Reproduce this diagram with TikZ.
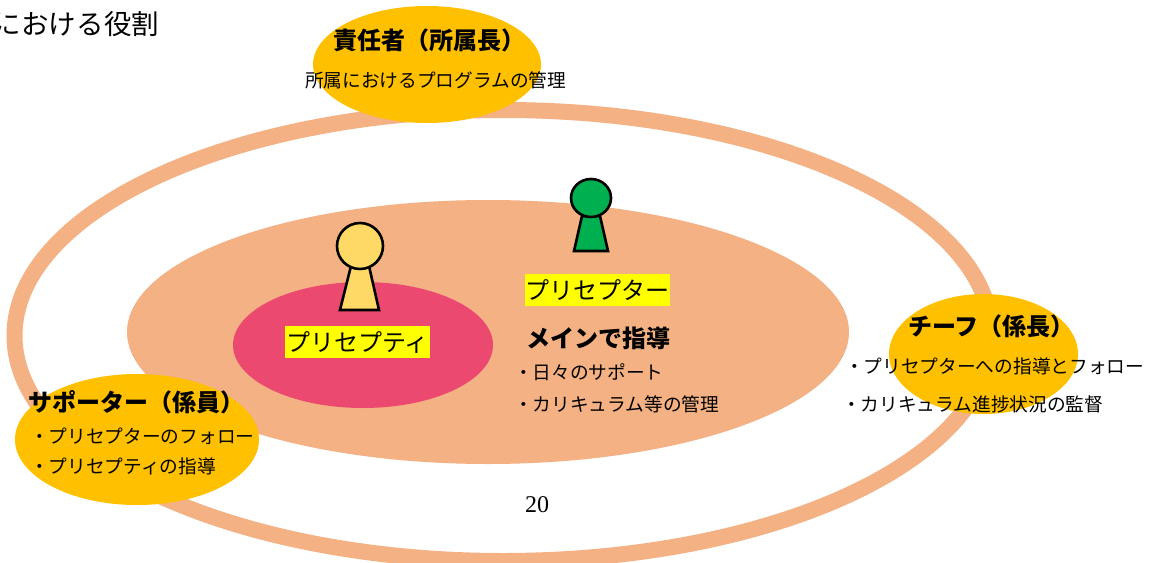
\documentclass[tikz,border=0pt]{standalone}
\usepackage{fontspec}
\setmainfont{Noto Sans CJK JP}
\newfontfamily\numfont{Liberation Serif}
\usetikzlibrary{shapes.geometric}
\definecolor{ringc}{HTML}{F4B183}
\definecolor{goldc}{HTML}{FFC000}
\definecolor{redc}{HTML}{EB4970}
\definecolor{headY}{HTML}{FFD966}
\definecolor{headG}{HTML}{00B050}
\definecolor{hilite}{RGB}{255,255,0}
\newcommand{\fsz}[1]{\fontsize{#1}{#1}\selectfont}
\tikzset{
  oval/.style={ellipse,inner sep=0pt,outer sep=0pt,draw=none},
  goldoval/.style={oval,fill=goldc},
  txt/.style={inner sep=0pt,outer sep=0pt,anchor=west},
  heading/.style={txt,font=\fsz{24}\bfseries,text height=21.12pt,text depth=2.88pt},
  bodyt/.style={txt,font=\fsz{18.7},text height=16.46pt,text depth=2.24pt},
  mainhead/.style={txt,font=\fsz{24}\bfseries,text height=21.12pt,text depth=2.88pt},
  titlet/.style={txt,font=\fsz{27.5},anchor=east,text height=24.2pt,text depth=3.3pt},
  role/.style={txt,font=\fsz{24},text height=21.12pt,text depth=2.88pt,fill=hilite,anchor=center,minimum width=145pt,minimum height=32pt,text=black},
  figline/.style={draw=black,line width=2.6pt,line join=miter}
}
\begin{document}
\begin{tikzpicture}[x=1pt,y=-1pt]
\useasboundingbox (0,0) rectangle (1150,562);
\fill[white] (0,0) rectangle (1150,562);
% rings
\node[oval,draw=ringc,line width=16pt,minimum width=977pt,minimum height=451pt] (ring) at (503,335.5) {};
\node[oval,fill=ringc,minimum width=722pt,minimum height=264pt] (inner) at (488,332) {};
\node[oval,fill=redc,minimum width=260pt,minimum height=126pt] (core) at (363,345) {};
% role ovals
\node[goldoval,minimum width=228pt,minimum height=117pt] (topoval) at (427,64.5) {};
\node[goldoval,minimum width=189pt,minimum height=120pt] (rightoval) at (983.5,354) {};
\node[goldoval,minimum width=244pt,minimum height=131pt] (leftoval) at (137,439.5) {};
% figures
\draw[figline,fill=headY] (351,266) -- (369,266) -- (379,310) -- (340,310) -- cycle;
\node[oval,figline,fill=headY,minimum width=46pt,minimum height=46pt] (headA) at (360,246) {};
\draw[figline,fill=headG] (582,216) -- (600,216) -- (608,251) -- (574,251) -- cycle;
\node[oval,figline,fill=headG,minimum width=40pt,minimum height=38pt] (headB) at (591,198) {};
% labels
\node[titlet] (title) at (159,24) {における役割};
\node[heading] (topH) at (333,40) {責任者（所属長）};
\node[bodyt] (topB) at (305,80) {所属におけるプログラムの管理};
\node[role] (roleA) at (357.5,342) {プリセプティ};
\node[role] (roleB) at (597.5,290) {プリセプター};
\node[mainhead] (mainH) at (526,338) {メインで指導};
\node[bodyt] (m1) at (514,372) {・日々のサポート};
\node[bodyt] (m2) at (514,404) {・カリキュラム等の管理};
\node[heading] (leftH) at (28,402) {サポーター（係員）};
\node[bodyt] (l1) at (30,436) {・プリセプターのフォロー};
\node[bodyt] (l2) at (30,466) {・プリセプティの指導};
\node[heading] (rightH) at (908,326) {チーフ（係長）};
\node[bodyt] (r1) at (845,366) {・プリセプターへの指導とフォロー};
\node[bodyt] (r2) at (842,404) {・カリキュラム進捗状況の監督};
\node[txt,font=\numfont\fsz{24},text height=16pt,text depth=0pt] (page) at (525,504) {20};
\end{tikzpicture}
\end{document}
